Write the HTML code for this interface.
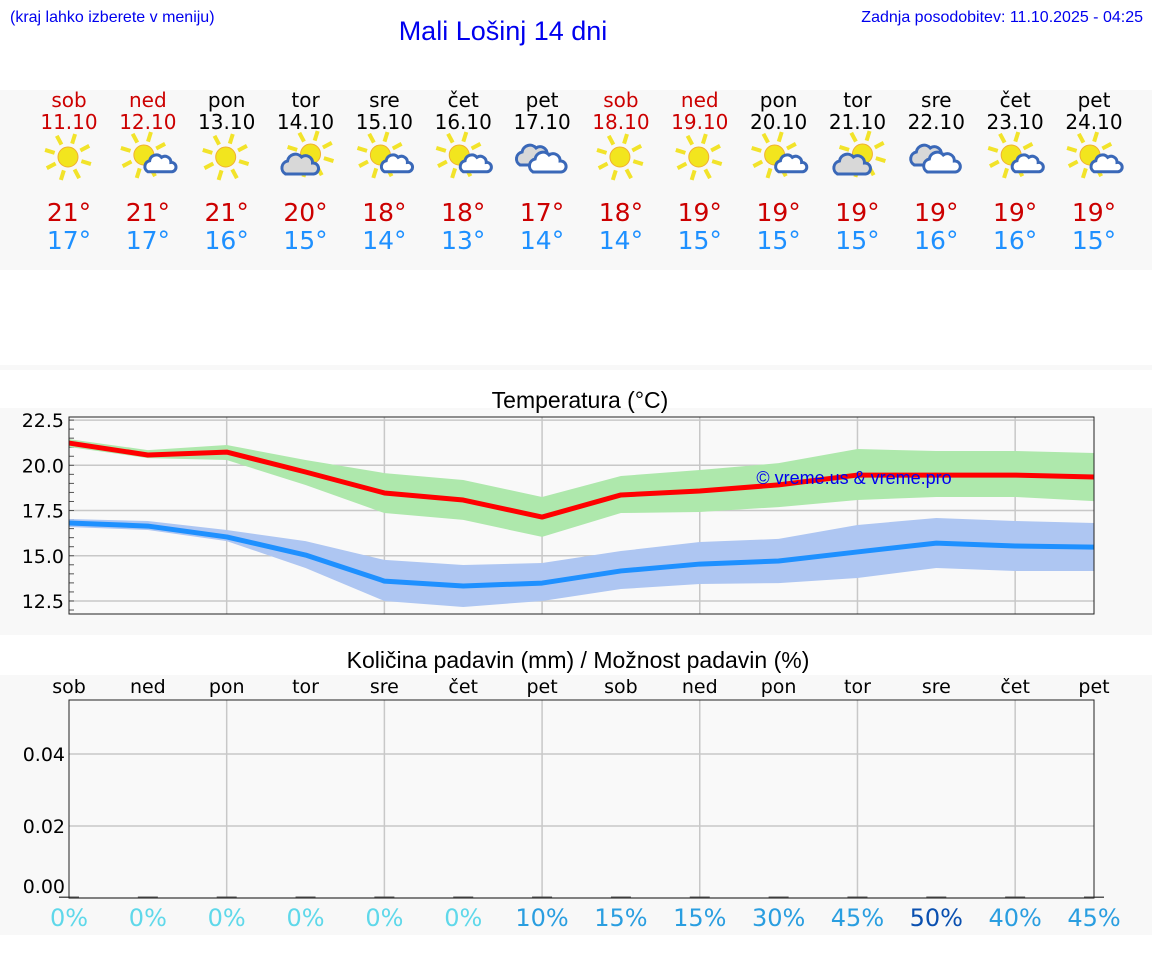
<!DOCTYPE html>
<html><head><meta charset="utf-8"><style>
html,body{margin:0;padding:0;background:#fff;}
svg{display:block;}
text{font-family:"DejaVu Sans","Liberation Sans",sans-serif;}
</style></head><body>
<svg id="s" width="1152" height="975" viewBox="0 0 1152 975" xmlns="http://www.w3.org/2000/svg">
<rect x="0" y="90" width="1152" height="180" fill="#f8f8f8"/>
<rect x="0" y="365" width="1152" height="5" fill="#f8f8f8"/>
<rect x="0" y="408" width="1152" height="227" fill="#f8f8f8"/>
<rect x="0" y="675" width="1152" height="260" fill="#f8f8f8"/>
<text x="10" y="22" style="font-family:'Liberation Sans',sans-serif" font-size="16" fill="#0000ee">(kraj lahko izberete v meniju)</text>
<text x="503" y="40" text-anchor="middle" style="font-family:'Liberation Sans',sans-serif" font-size="27" fill="#0000ee">Mali Lošinj 14 dni</text>
<text x="1143" y="22" text-anchor="end" style="font-family:'Liberation Sans',sans-serif" font-size="16" fill="#0000ee">Zadnja posodobitev: 11.10.2025 - 04:25</text>
<text x="580" y="408" text-anchor="middle" style="font-family:'Liberation Sans',sans-serif" font-size="23" fill="#000">Temperatura (°C)</text>
<text x="578" y="668" text-anchor="middle" style="font-family:'Liberation Sans',sans-serif" font-size="23" fill="#000">Količina padavin (mm) / Možnost padavin (%)</text>
<g id="hdr"></g>
<g id="temp"></g>
<g id="prec"></g>
</svg>
<script>
const days=["sob","ned","pon","tor","sre","čet","pet","sob","ned","pon","tor","sre","čet","pet"];
const dates=["11.10","12.10","13.10","14.10","15.10","16.10","17.10","18.10","19.10","20.10","21.10","22.10","23.10","24.10"];
const weekend=[1,1,0,0,0,0,0,1,1,0,0,0,0,0];
const icons=["sun","suns","sun","sunb","suns","suns","cloud","sun","sun","suns","sunb","cloud","suns","suns"];
const maxT=[21,21,21,20,18,18,17,18,19,19,19,19,19,19];
const minT=[17,17,16,15,14,13,14,14,15,15,15,16,16,15];
const maxLine=[21.23,20.57,20.73,19.63,18.47,18.08,17.14,18.36,18.58,18.92,19.46,19.46,19.46,19.35];
const maxHi=[21.45,20.84,21.12,20.29,19.57,19.19,18.25,19.41,19.74,20.12,20.9,20.79,20.79,20.68];
const maxLo=[21.01,20.4,20.29,18.91,17.36,16.98,16.04,17.36,17.42,17.69,18.08,18.25,18.25,18.02];
const minLine=[16.81,16.64,16.04,15.04,13.6,13.33,13.49,14.16,14.54,14.71,15.21,15.7,15.54,15.48];
const minHi=[17.03,16.92,16.42,15.81,14.77,14.49,14.6,15.26,15.76,15.93,16.7,17.09,16.92,16.81];
const minLo=[16.59,16.42,15.81,14.32,12.5,12.17,12.5,13.16,13.44,13.49,13.77,14.32,14.16,14.16];
const tempTicks=[12.5,15.0,17.5,20.0,22.5];
const precip=[0,0,0,0,0,0,0,0,0,0,0,0,0,0];
const chance=[0,0,0,0,0,0,10,15,15,30,45,50,40,45];
const precTicks=[0.00,0.02,0.04];

const NS="http://www.w3.org/2000/svg";
function mk(p,t,a,txt){const e=document.createElementNS(NS,t);for(const k in a)e.setAttribute(k,a[k]);if(txt!==undefined)e.textContent=txt;p.appendChild(e);return e;}
const L=69,R=1094;
const xs=i=>L+i*(R-L)/13;
const tY=v=>417+(22.67-v)/(22.67-11.78)*(614-417);
const pY=v=>898-v/0.02*72;

const hdr=document.getElementById('hdr');
function sun(g,cx,cy,r){
  for(let k=0;k<8;k++){const a=k*Math.PI/4+0.3;
    const ray=mk(g,'line',{x1:cx+Math.cos(a)*(r+4),y1:cy+Math.sin(a)*(r+4),x2:cx+Math.cos(a)*(r+14),y2:cy+Math.sin(a)*(r+14),stroke:'#f2e32a','stroke-width':4});
    }
  const c=mk(g,'circle',{cx:cx,cy:cy,r:r,fill:'#f2e51e',stroke:'#f0b030','stroke-width':1});
  
}
function cloud(g,cx,cy,s,fill){
  const d=`M${cx-14*s},${cy+8*s} a${7*s},${7*s} 0 0 1 ${2*s},${-13*s} a${8*s},${8*s} 0 0 1 ${14*s},${-4*s} a${7*s},${7*s} 0 0 1 ${11*s},${6*s} a${5.5*s},${5.5*s} 0 0 1 ${1*s},${11*s} Z`;
  const p=mk(g,'path',{d:d,fill:fill,stroke:'#3a68b8','stroke-width':3});
  
}
days.forEach((d,i)=>{
  const x=xs(i);const col=weekend[i]?'#cc0000':'#000';
  const t1=mk(hdr,'text',{x:x,y:107,'text-anchor':'middle','font-size':20,fill:col},d);
  
  const t2=mk(hdr,'text',{x:x,y:129,'text-anchor':'middle','font-size':20,fill:col},dates[i]);
  
  const g=mk(hdr,'g',{});
  
  const ic=icons[i];
  if(ic==='sun'){sun(g,x-1,157,10);}
  else if(ic==='suns'){sun(g,x-4,155,10);cloud(g,x+12,165,0.85,'#fff');}
  else if(ic==='sunb'){sun(g,x+5,154,10);cloud(g,x-6,166,1.0,'#d8d8d8');}
  else {cloud(g,x-8,157,1.0,'#d8d8d8');cloud(g,x+5,164,1.0,'#fff');}
  const t3=mk(hdr,'text',{x:x,y:221,'text-anchor':'middle','font-size':25,fill:'#cc0000'},maxT[i]+'°');
  
  const t4=mk(hdr,'text',{x:x,y:249,'text-anchor':'middle','font-size':25,fill:'#1e90ff'},minT[i]+'°');
  
});

const tg=document.getElementById('temp');
const bg=mk(tg,'rect',{x:L,y:417,width:R-L,height:197,fill:'#f9f9f9'});

tempTicks.forEach(v=>{
  const gl=mk(tg,'line',{x1:L,x2:R,y1:tY(v),y2:tY(v),stroke:'#c8c8c8','stroke-width':1.5});
  
  const lb=mk(tg,'text',{x:64,y:tY(v)+7,'text-anchor':'end','font-size':19,fill:'#000'},v.toFixed(1));
  
});
for(let v=12.0;v<=22.6;v+=0.5){const mt=mk(tg,'line',{x1:L,x2:L+5,y1:tY(v),y2:tY(v),stroke:'#555','stroke-width':1});
  }
for(let i=2;i<13;i+=2){const vl=mk(tg,'line',{x1:xs(i),x2:xs(i),y1:417,y2:614,stroke:'#c8c8c8','stroke-width':1.5});
  }
function band(hi,lo,fill,name){
  let d='M'+hi.map((v,i)=>xs(i)+','+tY(v)).join(' L')+' L'+lo.map((v,i)=>xs(i)+','+tY(v)).reverse().join(' L')+' Z';
  const p=mk(tg,'path',{d:d,fill:fill});
}
function line(vals,col,name){
  const p=mk(tg,'polyline',{points:vals.map((v,i)=>xs(i)+','+tY(v)).join(' '),fill:'none',stroke:col,'stroke-width':5,'stroke-linejoin':'round'});
  
}
band(maxHi,maxLo,'#aee8ac','max-temp-band');
band(minHi,minLo,'#aec6f2','min-temp-band');
line(maxLine,'#ff0000','max-temp-line');
line(minLine,'#1e90ff','min-temp-line');
const wm=mk(tg,'text',{x:854,y:484,'text-anchor':'middle','font-size':18,fill:'#0000ee',style:"font-family:'Liberation Sans',sans-serif"},'© vreme.us & vreme.pro');

const fr=mk(tg,'rect',{x:L,y:417,width:R-L,height:197,fill:'none',stroke:'#222','stroke-width':1});


const pg=document.getElementById('prec');
const pbg=mk(pg,'rect',{x:L,y:700,width:R-L,height:198,fill:'#f9f9f9'});

precTicks.forEach(v=>{
  const gl=mk(pg,'line',{x1:L,x2:R,y1:pY(v),y2:pY(v),stroke:'#c8c8c8','stroke-width':1.5});
  
  const ly=v===0?pY(v)-5:pY(v)+7;
  const lb=mk(pg,'text',{x:65,y:ly,'text-anchor':'end','font-size':19,fill:'#000'},v.toFixed(2));
  
});
for(let i=2;i<13;i+=2){const vl=mk(pg,'line',{x1:xs(i),x2:xs(i),y1:700,y2:898,stroke:'#c8c8c8','stroke-width':1.5});
  }
days.forEach((d,i)=>{
  const x=xs(i);
  const t=mk(pg,'text',{x:x,y:693,'text-anchor':'middle','font-size':19,fill:'#000'},d);
  
  const b=mk(pg,'rect',{x:x-10,y:pY(precip[i])-1.5,width:20,height:Math.max(1.5,pY(0)-pY(precip[i])+1.5),fill:'#555'});
  
  const c=chance[i];const col=c===0?'#5fd8ea':(c>=50?'#0a50b0':'#2a9ee0');
  const pt=mk(pg,'text',{x:x,y:926,'text-anchor':'middle','font-size':24,fill:col},c+'%');
  
});
const pfr=mk(pg,'rect',{x:L,y:700,width:R-L,height:198,fill:'none',stroke:'#222','stroke-width':1});

</script>
</body></html>
